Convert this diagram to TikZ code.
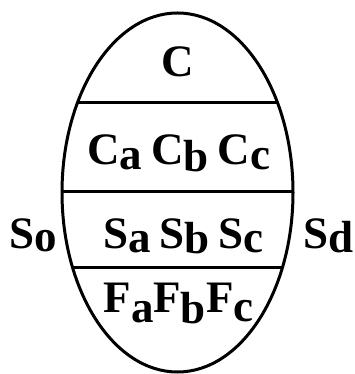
\documentclass[tikz,border=0pt]{standalone}
\usepackage{fontspec}
\setmainfont{Liberation Serif}
\usetikzlibrary{positioning}
% lowered letter, same size as the capital
\newcommand{\dn}[2][5pt]{\raisebox{-#1}{#2}}
\tikzset{
outline/.style= {line width=3pt},
divider/.style= {line width=3pt},
lbl/.style= {inner sep=0pt,anchor=base,font=\fontsize{45}{45}\selectfont\bfseries}
}

\begin{document}
\begin{tikzpicture}[x=1pt,y=1pt]
\useasboundingbox (0,0) rectangle (355,374);

% the egg and the three cuts across it
\begin{scope}
\clip (177.5,181.5) ellipse [x radius=115.5pt,y radius=179.5pt];
\foreach \h in {271,182,106}
  \draw[divider] (0,\h) -- (355,\h);
\end{scope}
\draw[outline] (177.5,181.5) ellipse [x radius=115.5pt,y radius=179.5pt];

% text in each band
\node[lbl] (c) at (177.5,297) {C};
\node[lbl] (crow) at (178.5,209) {C\dn{a}\hspace{9pt}C\dn[7pt]{b}\hspace{9pt}C\dn{c}};
\node[lbl] (srow) at (183.5,125) {S\dn[4pt]{a}\hspace{9pt}S\dn[5pt]{b}\hspace{9pt}S\dn[4pt]{c}};
\node[lbl] (frow) at (178.5,61) {F\dn[10pt]{a}F\dn[11pt]{b}F\dn[9pt]{c}};

% labels either side
\node[lbl] (so) at (33.5,125) {S\dn[3pt]{o}};
\node[lbl] (sd) at (328.5,125) {S\dn[4pt]{d}};

\end{tikzpicture}
\end{document}
